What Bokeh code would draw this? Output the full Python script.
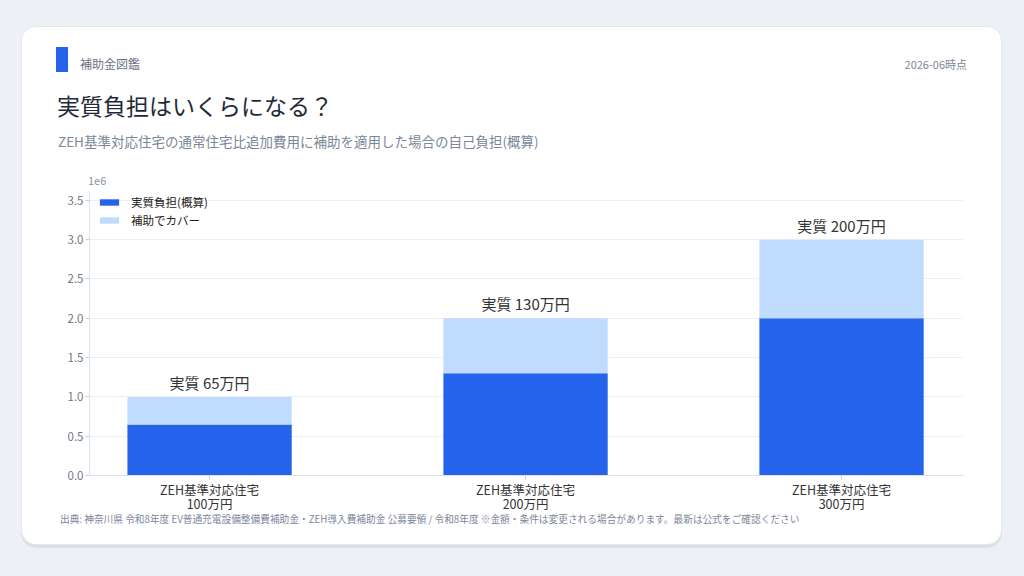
from bokeh.plotting import figure
from bokeh.layouts import column
from bokeh.models import ColumnDataSource, Range1d, FixedTicker, CustomJSTickFormatter, Div
from bokeh.core.properties import value
from bokeh.embed import file_html
from bokeh.resources import INLINE

# データ
categories = ["ZEH基準対応住宅\n100万円", "ZEH基準対応住宅\n200万円", "ZEH基準対応住宅\n300万円"]
x_pos = [0, 1, 2]
self_burden = [650000, 1300000, 2000000]   # 実質負担(概算)
subsidy = [350000, 700000, 1000000]        # 補助でカバー
y_ticks = [0, 500000, 1000000, 1500000, 2000000, 2500000, 3000000, 3500000]
series_names = ["実質負担(概算)", "補助でカバー"]

brand = "補助金図鑑"
as_of = "2026-06時点"
title = "実質負担はいくらになる？"
subtitle = "ZEH基準対応住宅の通常住宅比追加費用に補助を適用した場合の自己負担(概算)"
footnote = ("出典: 神奈川県 令和8年度 EV普通充電設備整備費補助金・ZEH導入費補助金 公募要領 / 令和8年度 "
            "※金額・条件は変更される場合があります。最新は公式をご確認ください")

FONT = "Noto Sans CJK JP"
DARK = "#2563eb"
LIGHT = "#bfdbfe"
PAGE_BG = "#edf0f5"
CARD_W = 979

totals = [a + b for a, b in zip(self_burden, subsidy)]
bar_labels = [f"実質 {v // 10000}万円" for v in self_burden]

source = ColumnDataSource(dict(x=x_pos, self_burden=self_burden, subsidy=subsidy,
                               total=totals, label=bar_labels))

# ヘッダー (カード内の座標)
header_html = f"""
<div style="position:relative;width:{CARD_W}px;height:160px;font-family:'{FONT}';white-space:nowrap;">
  <div style="position:absolute;left:34px;top:20px;width:12px;height:25px;background:{DARK};"></div>
  <div style="position:absolute;left:58px;top:29px;line-height:16px;font-size:12px;color:#6b7280;">{brand}</div>
  <div style="position:absolute;right:34px;top:29px;line-height:16px;font-size:11px;color:#7b8699;">{as_of}</div>
  <div style="position:absolute;left:35px;top:63px;line-height:30px;font-size:23px;color:#1f2937;">{title}</div>
  <div style="position:absolute;left:36px;top:105px;line-height:18px;font-size:13.5px;color:#7b8699;">{subtitle}</div>
  <div style="position:absolute;left:66px;top:146px;line-height:14px;font-size:11px;color:#8a94a6;">1e6</div>
</div>"""
header = Div(text=header_html, width=CARD_W, height=160, margin=0)

footer_html = f"""
<div style="position:relative;width:{CARD_W}px;height:17px;font-family:'{FONT}';white-space:nowrap;">
  <div style="position:absolute;left:38px;top:-15px;line-height:14px;font-size:9.7px;color:#7b8699;">{footnote}</div>
</div>"""
footer = Div(text=footer_html, width=CARD_W, height=17, margin=0)

p = figure(width=CARD_W, height=340, output_backend="svg", toolbar_location=None,
           x_range=Range1d(-0.38, 2.386), y_range=Range1d(0, 3600000),
           min_border_left=67, min_border_right=38, min_border_top=5, min_border_bottom=52,
           margin=0)
p.border_fill_color = "white"
p.background_fill_color = "white"
p.outline_line_color = None

# 積み上げ棒
p.vbar_stack(["self_burden", "subsidy"], x="x", width=0.52, source=source,
             color=[DARK, LIGHT], line_color=None, legend_label=series_names)

p.text(x="x", y="total", text="label", source=source, y_offset=-4,
       text_align="center", text_baseline="bottom", text_font=value(FONT),
       text_font_size="15px", text_color="#333333")

# 軸
p.xaxis.ticker = FixedTicker(ticks=x_pos)
p.xaxis.major_label_overrides = {x: c for x, c in zip(x_pos, categories)}
p.xaxis.major_label_text_font = FONT
p.xaxis.major_label_text_font_size = "12.5px"
p.xaxis.major_label_text_line_height = 0.78
p.xaxis.major_label_text_color = "#333333"
p.xaxis.major_label_standoff = 0
p.xaxis.axis_line_color = "#dde2e9"
p.xaxis.major_tick_line_color = "#c9cfd8"
p.xaxis.major_tick_out = 4
p.xaxis.major_tick_in = 0
p.xaxis.minor_tick_line_color = None

p.yaxis.ticker = FixedTicker(ticks=y_ticks)
p.yaxis.formatter = CustomJSTickFormatter(code="return (tick / 1e6).toFixed(1);")
p.yaxis.major_label_text_font = FONT
p.yaxis.major_label_text_font_size = "11.5px"
p.yaxis.major_label_text_color = "#6b7789"
p.yaxis.major_label_standoff = 2
p.yaxis.axis_line_color = "#dde2e9"
p.yaxis.major_tick_line_color = "#c9cfd8"
p.yaxis.major_tick_out = 4
p.yaxis.major_tick_in = 0
p.yaxis.minor_tick_line_color = None

p.xgrid.grid_line_color = None
p.ygrid.grid_line_color = "#eceff3"

# 凡例
lg = p.legend[0]
lg.location = (8, 247)
lg.margin = 0
lg.padding = 0
lg.spacing = 2
lg.glyph_width = 24
lg.glyph_height = 8
lg.label_height = 14
lg.label_standoff = 10
lg.label_text_font = FONT
lg.label_text_font_size = "11.5px"
lg.label_text_color = "#222222"
lg.background_fill_alpha = 0
lg.border_line_color = None

card = column(header, p, footer, width=CARD_W, height=517, margin=(27, 0, 0, 22),
              styles={"background-color": "white", "border-radius": "14px",
                      "box-shadow": "0 0 0 1px #e4e8ee, 0 3px 0 1px #dae0e8"})
page = column(card, width=1024, height=576, margin=0,
              styles={"background-color": PAGE_BG})

open("out.html", "w").write(file_html(page, INLINE))
